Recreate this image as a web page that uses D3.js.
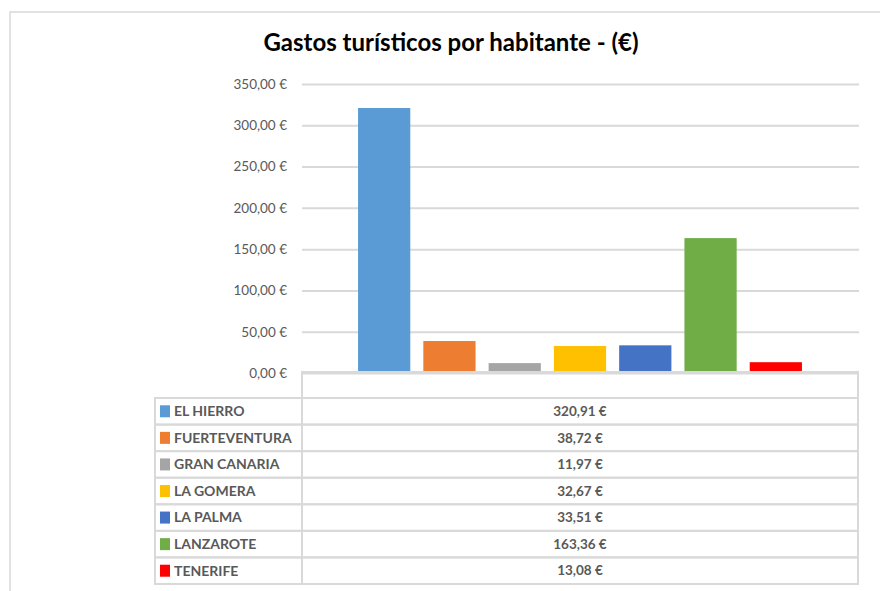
<!DOCTYPE html>
<html>
<head>
<meta charset="utf-8">
<script src="https://cdn.jsdelivr.net/npm/d3@7"></script>
<style>
  body { margin: 0; background: #fff; }
  text { font-family: Lato, "Open Sans", sans-serif; }
</style>
</head>
<body>
<div id="chart"></div>
<script>
// data
var islands = ["EL HIERRO", "FUERTEVENTURA", "GRAN CANARIA", "LA GOMERA", "LA PALMA", "LANZAROTE", "TENERIFE"];
var gastos = [320.91, 38.72, 11.97, 32.67, 33.51, 163.36, 13.08];
var colors = ["#5B9BD5", "#ED7D31", "#A5A5A5", "#FFC000", "#4472C4", "#70AD47", "#FF0000"];
var yTicks = [0, 50, 100, 150, 200, 250, 300, 350];

var width = 880, height = 591;
var grid = "#d9d9d9";

var euro = d3.formatLocale({decimal: ",", thousands: ".", grouping: [3], currency: ["", " €"]}).format("$,.2f");

var svg = d3.select("#chart").append("svg")
    .attr("width", width)
    .attr("height", height);

// outer chart frame
svg.append("rect")
    .attr("x", 10).attr("y", 12)
    .attr("width", 900).attr("height", 620)
    .attr("fill", "#fff")
    .attr("stroke", grid).attr("stroke-width", 1.5);

svg.append("text")
    .attr("x", 451).attr("y", 51)
    .attr("text-anchor", "middle")
    .style("font-size", "24px")
    .style("font-weight", "bold")
    .attr("fill", "#000")
    .text("Gastos turísticos por habitante - (€)");

var plotLeft = 302, plotRight = 859;

var y = d3.scaleLinear().domain([0, 350]).range([373, 84]);
var x = d3.scaleBand().domain(islands).range([345, 815]).padding(0.2);

var yAxis = svg.append("g")
    .attr("transform", "translate(" + plotLeft + ",0)")
    .call(d3.axisLeft(y).tickValues(yTicks).tickFormat(euro)
        .tickSize(-(plotRight - plotLeft)).tickPadding(15));
yAxis.select(".domain").remove();
yAxis.selectAll(".tick line").attr("stroke", grid).attr("stroke-width", 2);
yAxis.selectAll(".tick text")
    .attr("fill", "#595959")
    .style("font-size", "13.5px");

svg.selectAll("rect.bar")
    .data(gastos)
    .enter().append("rect")
    .attr("class", "bar")
    .attr("x", function(d, i) { return x(islands[i]); })
    .attr("width", x.bandwidth())
    .attr("y", function(d) { return y(d); })
    .attr("height", function(d) { return y(0) - y(d); })
    .attr("fill", function(d, i) { return colors[i]; });

// data table
var tLeft = 155, tMid = 302, tRight = 858, tTop = 372;
var row = d3.scaleBand().domain(islands).range([398, 584]);

var table = svg.append("g")
    .attr("fill", "none")
    .attr("stroke", grid)
    .attr("stroke-width", 2);

table.append("rect")
    .attr("x", tMid).attr("y", tTop)
    .attr("width", tRight - tMid).attr("height", row.range()[0] - tTop);

table.selectAll("rect.row")
    .data(islands)
    .enter().append("rect")
    .attr("class", "row")
    .attr("x", tLeft).attr("y", function(d) { return row(d); })
    .attr("width", tRight - tLeft).attr("height", row.bandwidth());

table.append("line")
    .attr("x1", tMid).attr("x2", tMid)
    .attr("y1", tTop).attr("y2", row.range()[1]);

var rows = svg.selectAll("g.trow")
    .data(islands)
    .enter().append("g")
    .attr("class", "trow")
    .attr("transform", function(d) { return "translate(0," + (row(d) + row.bandwidth() / 2) + ")"; });

rows.append("rect")
    .attr("x", 160).attr("y", -6)
    .attr("width", 10).attr("height", 12)
    .attr("fill", function(d, i) { return colors[i]; });

rows.append("text")
    .attr("x", 174).attr("dy", "0.35em")
    .attr("fill", "#595959")
    .style("font-size", "14px")
    .style("font-weight", "bold")
    .text(function(d) { return d; });

rows.append("text")
    .attr("x", (tMid + tRight) / 2).attr("dy", "0.35em")
    .attr("text-anchor", "middle")
    .attr("fill", "#595959")
    .style("font-size", "13.5px")
    .style("font-weight", "bold")
    .text(function(d, i) { return euro(gastos[i]); });
</script>
</body>
</html>
